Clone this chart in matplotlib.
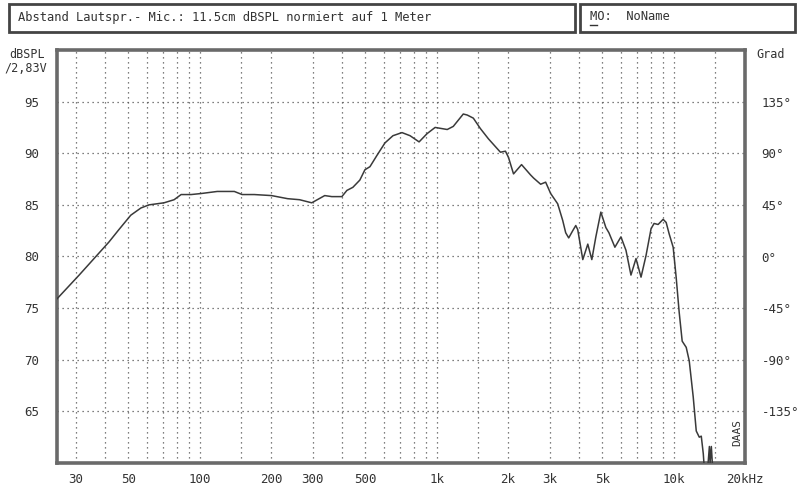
import matplotlib
matplotlib.use('Agg')
import matplotlib.pyplot as plt
from matplotlib.lines import Line2D
from matplotlib.patches import Rectangle

# frequency response (Hz, dBSPL)
freq_hz = [25, 31, 41.4, 45.6, 51.2, 56.5, 61.1, 70.7, 78, 83.5, 92, 101.5, 118.6,
           140, 151, 170, 201, 235, 264, 297, 337, 361, 398, 418, 443, 474, 498,
           523, 560, 605, 654, 714, 772, 843, 911, 985, 1108, 1175, 1295, 1346,
           1428, 1528, 1653, 1858, 1951, 2009, 2110, 2281, 2490, 2564, 2746, 2883,
           3027, 3241, 3402, 3503, 3607, 3751, 3863, 3938, 4136, 4342, 4515, 4695,
           4929, 5176, 5331, 5650, 5991, 6292, 6604, 6935, 7283, 7646, 8030, 8268,
           8597, 9028, 9296, 9570, 9952, 10245, 10551, 10864, 11298, 11633, 12093,
           12455, 12826, 13077, 13335, 13466, 13866, 14150, 14250, 14420, 14650, 15000]
spl_db = [75.9, 78.2, 81.4, 82.6, 84.0, 84.7, 85.0, 85.2, 85.5, 86.0, 86.0, 86.1, 86.3,
          86.3, 86.0, 86.0, 85.9, 85.6, 85.5, 85.2, 85.9, 85.8, 85.8, 86.4, 86.7, 87.4, 88.4,
          88.7, 89.8, 91.0, 91.7, 92.0, 91.7, 91.1, 91.9, 92.5, 92.3, 92.6, 93.8, 93.7,
          93.4, 92.4, 91.4, 90.1, 90.2, 89.6, 88.0, 88.9, 87.9, 87.6, 87.0, 87.2,
          86.1, 85.1, 83.5, 82.3, 81.8, 82.5, 83.0, 82.6, 79.7, 81.2, 79.7, 81.9,
          84.3, 82.8, 82.3, 80.9, 81.9, 80.6, 78.2, 79.8, 78.0, 80.1, 82.7, 83.2,
          83.1, 83.6, 83.3, 82.2, 80.9, 78.0, 74.6, 71.8, 71.2, 69.9, 66.4,
          63.1, 62.5, 62.6, 60.9, 59.5, 59.0, 61.6, 60.0, 61.6, 59.0, 59.0]

db_ticks = [65, 70, 75, 80, 85, 90, 95]
phase_ticks = [-135, -90, -45, 0, 45, 90, 135]
x_label_freqs = [30, 50, 100, 200, 300, 500, 1000, 2000, 3000, 5000, 10000, 20000]
x_label_text = ['30', '50', '100', '200', '300', '500', '1k', '2k', '3k', '5k', '10k', '20kHz']
x_grid_freqs = ([30, 40, 50, 60, 70, 80, 90, 100, 150, 200]
                + [300, 400, 500, 600, 700, 800, 900, 1000, 1500, 2000]
                + [3000, 4000, 5000, 6000, 7000, 8000, 9000, 10000, 15000])

title_text = 'Abstand Lautspr.- Mic.: 11.5cm dBSPL normiert auf 1 Meter'
name_text = 'MO:  NoName'

W, H = 800, 490
mono = 'DejaVu Sans Mono'
ink = '#333333'

fig = plt.figure(figsize=(8, 4.9), dpi=100)
fig.patch.set_facecolor('white')

ax = fig.add_axes([57 / W, 1 - 463 / H, (745 - 57) / W, (463 - 50) / H])
ax.set_xscale('log')
ax.set_xlim(25, 20000)
ax.set_ylim(60, 100)

for f in x_grid_freqs:
    ax.axvline(f, color='#555555', lw=0.9, linestyle=(0, (1, 3)), zorder=1)
for d in db_ticks:
    ax.axhline(d, color='#555555', lw=0.9, linestyle=(0, (1, 3)), zorder=1)

ax.plot(freq_hz, spl_db, color='#3a3a3a', lw=1.1, zorder=3)

ax.set_xticks(x_label_freqs)
ax.set_xticklabels(x_label_text, fontsize=9, family=mono, color=ink)
ax.minorticks_off()
ax.set_yticks(db_ticks)
ax.set_yticklabels([str(d) for d in db_ticks], fontsize=9, family=mono, color=ink)
ax.tick_params(length=0, pad=7)
ax.tick_params(axis='y', pad=13)
for s in ax.spines.values():
    s.set_color('#6a6a6a')
    s.set_linewidth(2.6)

ax2 = ax.twinx()
ax2.set_ylim(-180, 180)
ax2.set_yticks(phase_ticks)
ax2.set_yticklabels([f'{p}°' for p in phase_ticks], fontsize=9, family=mono, color=ink)
ax2.tick_params(length=0, pad=12)
for lab in ax2.get_yticklabels():
    lab.set_horizontalalignment('left')
for s in ax2.spines.values():
    s.set_visible(False)

# axis captions
fig.text(45 / W, 1 - 55 / H, 'dBSPL', fontsize=8.5, family=mono, color=ink, ha='right', va='center')
fig.text(47 / W, 1 - 69 / H, '/2,83V', fontsize=8.5, family=mono, color=ink, ha='right', va='center')
fig.text(756 / W, 1 - 55 / H, 'Grad', fontsize=8.5, family=mono, color=ink, ha='left', va='center')
fig.text(737 / W, 1 - 432 / H, 'DAAS', fontsize=8, family=mono, color=ink, rotation=90,
         ha='center', va='center')

# header boxes
fig.patches.append(Rectangle((9 / W, 1 - 32 / H), (575 - 9) / W, 28 / H, transform=fig.transFigure,
                             fill=False, edgecolor='#444444', lw=2.0))
fig.patches.append(Rectangle((580 / W, 1 - 32 / H), (795 - 580) / W, 28 / H, transform=fig.transFigure,
                             fill=False, edgecolor='#444444', lw=2.0))
fig.text(18 / W, 1 - 17 / H, title_text, fontsize=8.7, family=mono, color=ink, va='center')
fig.text(590 / W, 1 - 17 / H, name_text, fontsize=8.7, family=mono, color=ink, va='center')
fig.add_artist(Line2D([590 / W, 597 / W], [1 - 25 / H, 1 - 25 / H], transform=fig.transFigure,
                      color=ink, lw=1.0))

fig.savefig('out.png', dpi=100, facecolor='white')
